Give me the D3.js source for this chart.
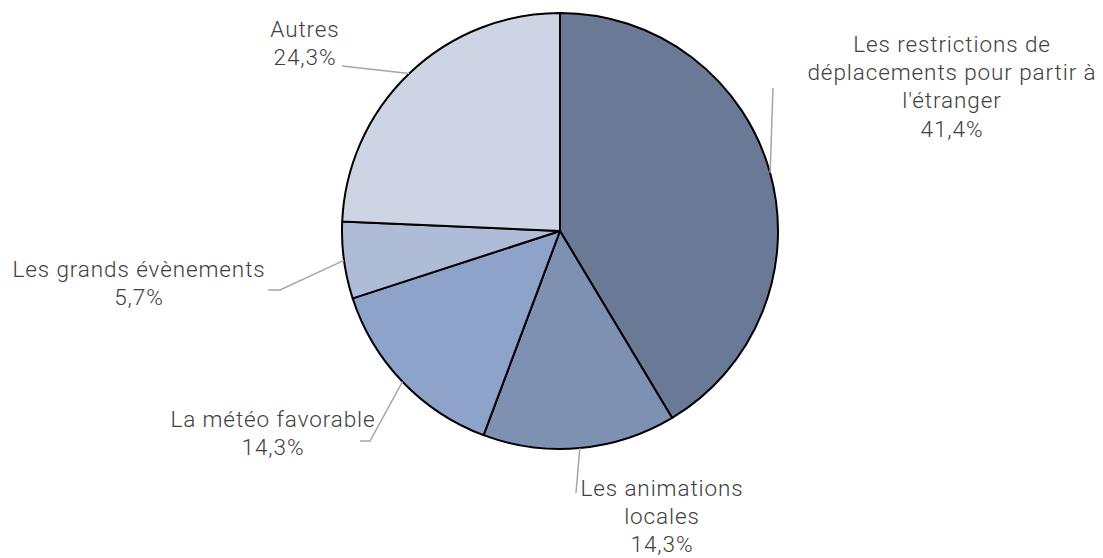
<!DOCTYPE html>
<html><head><meta charset="utf-8">
<script src="https://cdn.jsdelivr.net/npm/d3@7"></script>
<style>
html,body{margin:0;padding:0;background:#fff;}
text{font-family:"Roboto",sans-serif;font-weight:300;fill:#404040;font-size:22.5px;letter-spacing:0.9px;}
</style></head>
<body>
<svg id="chart" width="1103" height="558"></svg>
<script>
const categories = ["Les restrictions de déplacements pour partir à l'étranger","Les animations locales","La météo favorable","Les grands évènements","Autres"];
const values = [41.4, 14.3, 14.3, 5.7, 24.3];
const valueLabels = ["41,4%","14,3%","14,3%","5,7%","24,3%"];
const labelLines = [
  ["Les restrictions de","déplacements pour partir à","l'étranger"],
  ["Les animations","locales"],
  ["La météo favorable"],
  ["Les grands évènements"],
  ["Autres"]
];
const colors = ["#6A7A96","#7F91B3","#8EA3CA","#AFBCD8","#CDD4E4"];

// layout: label centre x, first baseline y, leader line end points
const layout = [
  {x:952, y:52, pts:[[773,88]]},
  {x:662, y:496, pts:[[576,493]]},
  {x:273, y:427, pts:[[370,441],[360,441]]},
  {x:139, y:277, pts:[[280,290],[268,290]]},
  {x:305, y:37, pts:[[342,66]]}
];

const svg = d3.select("#chart");
const cx = 560, cy = 231, R = 218;
const g = svg.append("g").attr("transform",`translate(${cx},${cy})`);
const pie = d3.pie().sort(null).value(d=>d)(values);
const arc = d3.arc().innerRadius(0).outerRadius(R);

g.selectAll("path.slice").data(pie).join("path")
  .attr("class","slice")
  .attr("d",arc)
  .attr("fill",(d,i)=>colors[i])
  .attr("stroke","#000").attr("stroke-width",2).attr("stroke-linejoin","round");

// leader lines
pie.forEach((d,i)=>{
  const a = (d.startAngle+d.endAngle)/2;
  const p0 = [cx+R*Math.sin(a), cy-R*Math.cos(a)];
  const pts = [p0, ...layout[i].pts];
  svg.append("path").attr("d", d3.line()(pts))
    .attr("fill","none").attr("stroke","#A6A6A6").attr("stroke-width",1.5);
});

// labels
const lh = 28.2;
labelLines.forEach((lines,i)=>{
  const all = [...lines, valueLabels[i]];
  const t = svg.append("text").attr("text-anchor","middle");
  all.forEach((s,j)=>{
    t.append("tspan").attr("x",layout[i].x).attr("y",layout[i].y+j*lh).text(s);
  });
});
</script>
</body></html>
